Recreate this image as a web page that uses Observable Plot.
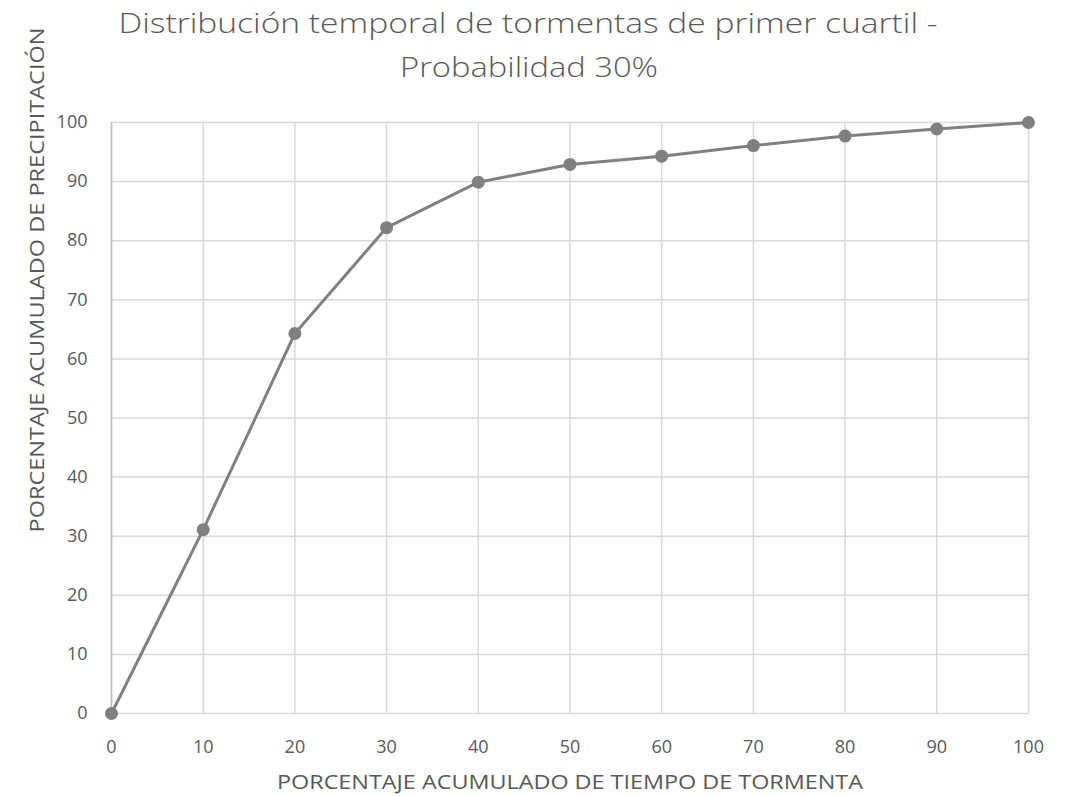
<!DOCTYPE html>
<html>
<head>
<meta charset="utf-8">
<script src="https://cdn.jsdelivr.net/npm/d3@7"></script>
<script src="https://cdn.jsdelivr.net/npm/@observablehq/plot@0.6"></script>
<style>
  html, body { margin: 0; padding: 0; background: #ffffff; }
  #chart { width: 1069px; height: 796px; }
</style>
</head>
<body>
<div id="chart"></div>
<script>
// Data
const timePct = [0, 10, 20, 30, 40, 50, 60, 70, 80, 90, 100];
const precipPct = [0, 31.1, 64.3, 82.2, 89.9, 92.9, 94.3, 96.1, 97.7, 98.9, 100];
const xTicks = [0, 10, 20, 30, 40, 50, 60, 70, 80, 90, 100];
const yTicks = [0, 10, 20, 30, 40, 50, 60, 70, 80, 90, 100];
const titleLines = ["Distribución temporal de tormentas de primer cuartil -", "Probabilidad 30%"];
const xLabel = "PORCENTAJE ACUMULADO DE TIEMPO DE TORMENTA";
const yLabel = "PORCENTAJE ACUMULADO DE PRECIPITACIÓN";

const data = timePct.map((t, i) => ({t, p: precipPct[i]}));

const textColor = "#595959";
const font = "'Open Sans', 'DejaVu Sans', sans-serif";

const chart = Plot.plot({
  width: 1069,
  height: 796,
  marginLeft: 111,
  marginRight: 41,
  marginTop: 122,
  marginBottom: 83,
  style: {fontFamily: font, fontSize: "18px", color: textColor, background: "#ffffff"},
  x: {domain: [0, 100]},
  y: {domain: [0, 100]},
  marks: [
    Plot.gridX(xTicks, {stroke: "#d9d9d9", strokeOpacity: 1, strokeWidth: 1.5}),
    Plot.gridY(yTicks, {stroke: "#d9d9d9", strokeOpacity: 1, strokeWidth: 1.5}),
    Plot.ruleX([0], {stroke: "#bfbfbf", strokeWidth: 1.5}),
    Plot.axisX(xTicks, {tickSize: 0, tickPadding: 27, label: null, fill: textColor, fontSize: 18}),
    Plot.axisY(yTicks, {tickSize: 0, tickPadding: 24, label: null, fill: textColor, fontSize: 18}),
    Plot.line(data, {x: "t", y: "p", stroke: "#808080", strokeWidth: 3}),
    Plot.dot(data, {x: "t", y: "p", r: 6.5, fill: "#808080", stroke: "none"})
  ]
});

const svg = d3.select(chart);
// Title
svg.append("text")
  .attr("x", 528).attr("y", 33)
  .attr("text-anchor", "middle")
  .attr("font-family", font).attr("font-size", 28)
  .attr("font-weight", 300)
  .attr("fill", textColor)
  .attr("textLength", 819).attr("lengthAdjust", "spacingAndGlyphs")
  .text(titleLines[0]);
svg.append("text")
  .attr("x", 529).attr("y", 77)
  .attr("text-anchor", "middle")
  .attr("font-family", font).attr("font-size", 28)
  .attr("font-weight", 300)
  .attr("fill", textColor)
  .attr("textLength", 258).attr("lengthAdjust", "spacingAndGlyphs")
  .text(titleLines[1]);
// X axis label
svg.append("text")
  .attr("x", 570).attr("y", 789)
  .attr("text-anchor", "middle")
  .attr("font-family", font).attr("font-size", 20)
  .attr("fill", textColor)
  .attr("textLength", 586).attr("lengthAdjust", "spacingAndGlyphs")
  .text(xLabel);
// Y axis label
svg.append("text")
  .attr("transform", "translate(44,280) rotate(-90)")
  .attr("text-anchor", "middle")
  .attr("font-family", font).attr("font-size", 20)
  .attr("fill", textColor)
  .attr("textLength", 505).attr("lengthAdjust", "spacingAndGlyphs")
  .text(yLabel);

document.getElementById("chart").appendChild(chart);
</script>
</body>
</html>
